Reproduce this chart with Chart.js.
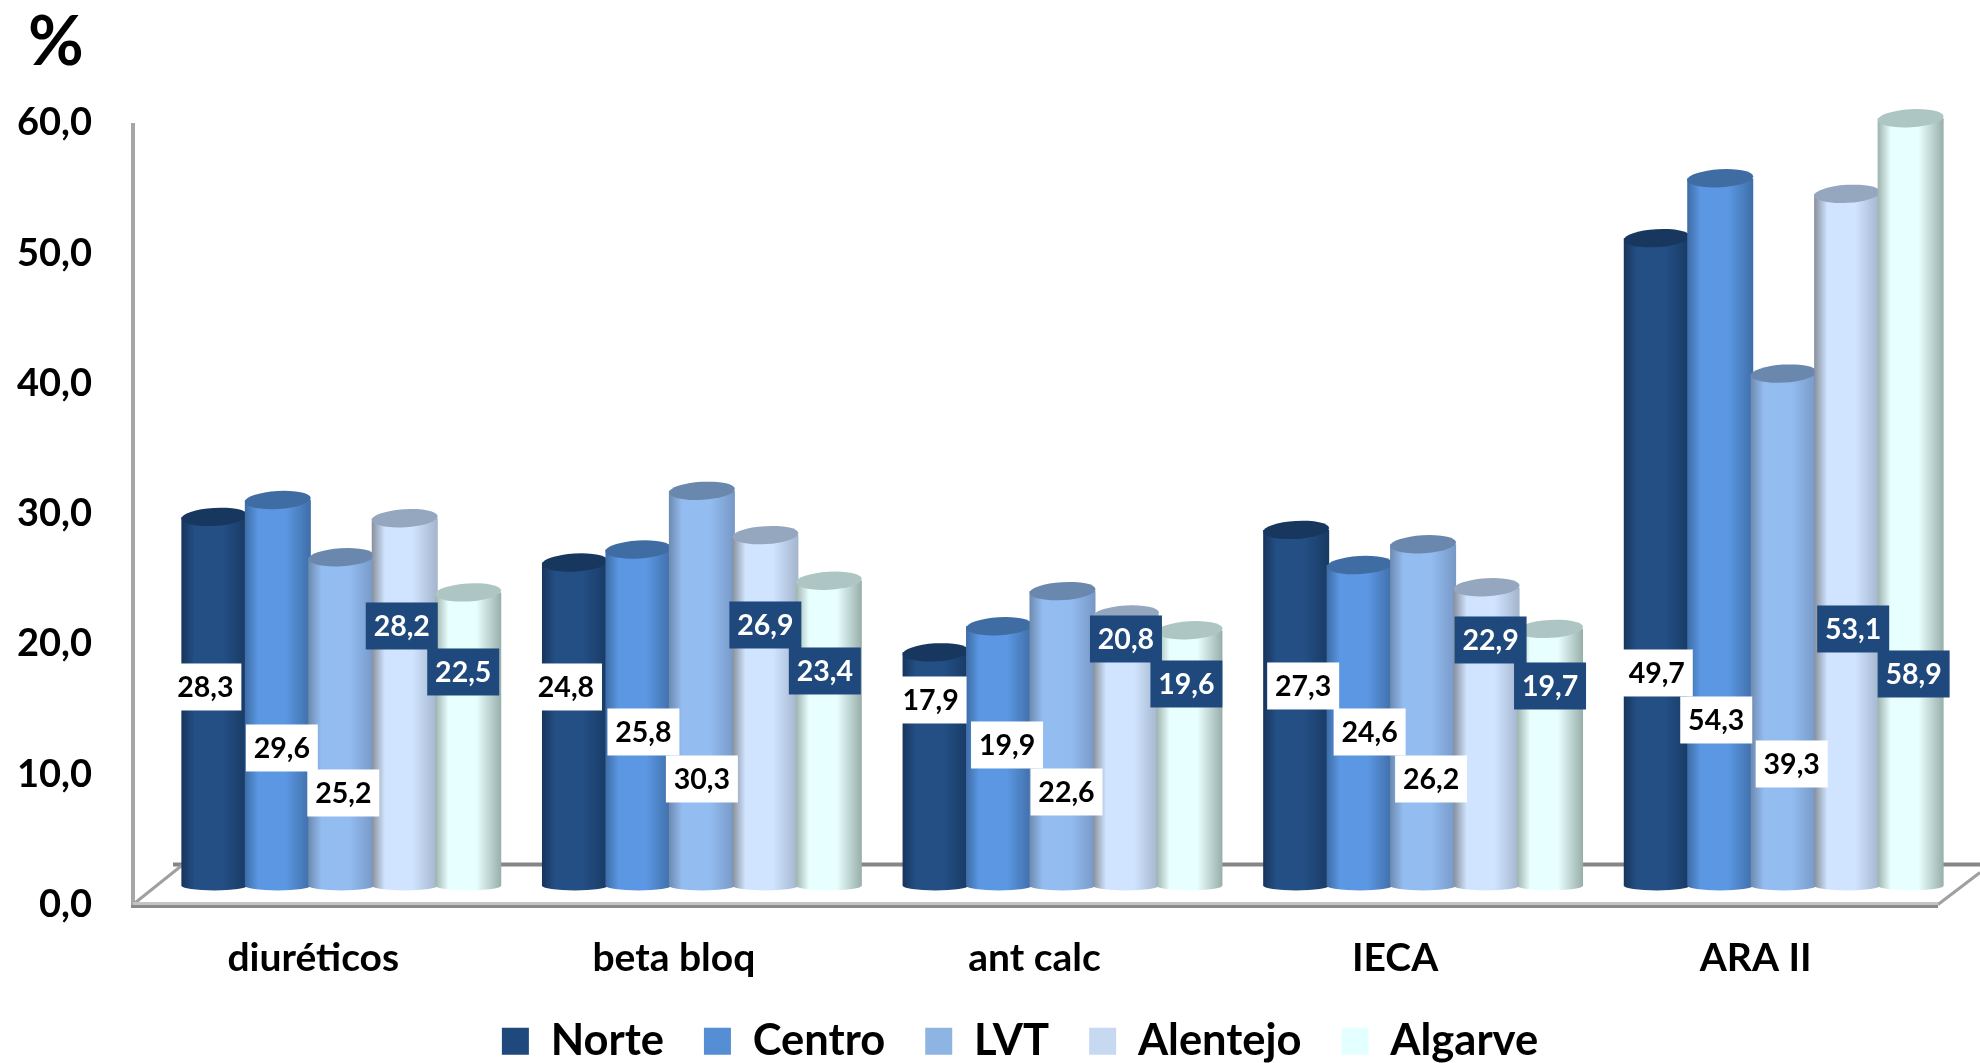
<!DOCTYPE html>
<html>
<head>
<meta charset="utf-8">
<title>Chart</title>
<script src="https://cdn.jsdelivr.net/npm/chart.js@4/dist/chart.umd.min.js"></script>
<style>
  html, body { margin: 0; padding: 0; background: #fff; }
  canvas { display: block; }
</style>
</head>
<body>
<canvas id="grafico" width="1980" height="1063"></canvas>
<script>
// values
const categories = ['diuréticos', 'beta bloq', 'ant calc', 'IECA', 'ARA II'];
const norte = [28.3, 24.8, 17.9, 27.3, 49.7];
const centro = [29.6, 25.8, 19.9, 24.6, 54.3];
const lvt = [25.2, 30.3, 22.6, 26.2, 39.3];
const alentejo = [28.2, 26.9, 20.8, 22.9, 53.1];
const algarve = [22.5, 23.4, 19.6, 19.7, 58.9];

// colours per series: legend, left edge, middle, right edge, top of the cylinder
const seriesNames = ['Norte', 'Centro', 'LVT', 'Alentejo', 'Algarve'];
const seriesValues = [norte, centro, lvt, alentejo, algarve];
const legendColors = ['#1f497d', '#558ed5', '#8eb4e3', '#c6d9f1', '#e4ffff'];
const edgeLeft = ['#17355c', '#3d6ca6', '#6d8ab0', '#868f9c', '#9db3ae'];
const bodyMid = ['#234f85', '#5b97e2', '#93bcf0', '#d0e4ff', '#e8ffff'];
const edgeRight = ['#183a63', '#3f6ea8', '#7698c6', '#a3b4cc', '#98aeaa'];
const capColors = ['#17375f', '#3f6ca3', '#6a88ae', '#95a7bf', '#aec6c3'];

// hand placed value labels, like in the original: px right of the bar centre / px above the base
const labelShift = [
  [-9, -9, -5, 7, 0],
  [4, 5, 8, 10, -4],
  [2, 0, 4, 8, 8],
  [-3, 0, 0, 4, 6],
  [-5, -4, -3, 0, 3]
];
const labelLift = [
  [199, 199, 186, 200, 213],
  [138, 154, 141, 154, 166],
  [93, 107, 94, 107, 122],
  [260, 261, 247, 246, 257],
  [214, 215, 202, 200, 212]
];

const FONT = 'Lato, Carlito, "Open Sans", sans-serif';
const fmt = v => v.toFixed(1).replace('.', ',');

// draws the floor and the wall lines of the 3D box
const frame3d = {
  id: 'frame3d',
  afterLayout(chart) {
    // legend sits right of the page centre in the reference
    chart.legend.left += 38;
    chart.legend.right += 38;
    chart.legend.top += 2;
    chart.legend.bottom += 2;
  },
  beforeDatasetsDraw(chart) {
    const { ctx, chartArea } = chart;
    const y = chart.scales.y;
    const x0 = chartArea.left - 28;
    const x1 = chartArea.right - 26;
    const yTop = y.getPixelForValue(60);
    const yBot = y.getPixelForValue(0);
    ctx.save();
    ctx.lineCap = 'butt';
    // back of the floor
    ctx.strokeStyle = '#868686';
    ctx.lineWidth = 4;
    ctx.beginPath();
    ctx.moveTo(x0 + 40, yBot - 40);
    ctx.lineTo(1980, yBot - 40);
    ctx.stroke();
    // side edges
    ctx.strokeStyle = '#a0a0a0';
    ctx.lineWidth = 3;
    ctx.beginPath();
    ctx.moveTo(x0, yBot);
    ctx.lineTo(x0 + 50, yBot - 40);
    ctx.moveTo(x1, yBot);
    ctx.lineTo(x1 + 42, yBot - 32);
    ctx.stroke();
    // wall
    ctx.strokeStyle = '#a6a6a6';
    ctx.lineWidth = 4;
    ctx.beginPath();
    ctx.moveTo(x0, yTop);
    ctx.lineTo(x0, yBot + 2);
    ctx.stroke();
    // front of the floor
    ctx.strokeStyle = '#c4c4c4';
    ctx.lineWidth = 3;
    ctx.beginPath();
    ctx.moveTo(x0, yBot - 1);
    ctx.lineTo(x1, yBot - 1);
    ctx.stroke();
    ctx.strokeStyle = '#8a8a8a';
    ctx.beginPath();
    ctx.moveTo(x0 - 2, yBot + 2);
    ctx.lineTo(x1, yBot + 2);
    ctx.stroke();
    // percent sign
    ctx.fillStyle = '#000';
    ctx.font = 'bold 68px ' + FONT;
    ctx.textAlign = 'left';
    ctx.textBaseline = 'middle';
    ctx.fillText('%', 28, 43);
    ctx.restore();
  }
};

// paints every bar element as a cylinder, later series on top
const cylinders = {
  id: 'cylinders',
  beforeDatasetDraw() {
    return false;
  },
  afterDatasetsDraw(chart) {
    const ctx = chart.ctx;
    ctx.save();
    seriesNames.forEach((name, s) => {
      chart.getDatasetMeta(s).data.forEach(bar => {
        const left = bar.x - bar.width / 2;
        const right = bar.x + bar.width / 2;
        const g = ctx.createLinearGradient(left, 0, right, 0);
        g.addColorStop(0, edgeLeft[s]);
        g.addColorStop(0.2, bodyMid[s]);
        g.addColorStop(0.62, bodyMid[s]);
        g.addColorStop(1, edgeRight[s]);
        ctx.fillStyle = g;
        ctx.beginPath();
        ctx.moveTo(left, bar.y);
        ctx.lineTo(left, bar.base);
        ctx.ellipse(bar.x, bar.base, bar.width / 2, 5, 0, Math.PI, 0, true);
        ctx.lineTo(right, bar.y);
        ctx.closePath();
        ctx.fill();
        ctx.fillStyle = capColors[s];
        ctx.beginPath();
        ctx.ellipse(bar.x, bar.y, bar.width / 2, 9, -0.06, 0, Math.PI * 2);
        ctx.fill();
      });
    });
    ctx.restore();
  }
};

// value labels in their little boxes
const valueBoxes = {
  id: 'valueBoxes',
  afterDatasetsDraw(chart) {
    const ctx = chart.ctx;
    const zero = chart.scales.yBars.getPixelForValue(0);
    ctx.save();
    ctx.font = 'bold 28.5px ' + FONT;
    ctx.textAlign = 'center';
    ctx.textBaseline = 'middle';
    seriesNames.forEach((name, s) => {
      const dark = s >= 3;
      chart.getDatasetMeta(s).data.forEach((bar, i) => {
        const cx = bar.x + labelShift[s][i];
        const cy = zero - labelLift[s][i];
        ctx.fillStyle = dark ? '#1f497d' : '#ffffff';
        ctx.fillRect(cx - 36, cy - 23, 72, 47);
        ctx.fillStyle = dark ? '#ffffff' : '#000000';
        ctx.fillText(fmt(seriesValues[s][i]), cx, cy + 1);
      });
    });
    ctx.restore();
  }
};

new Chart(document.getElementById('grafico'), {
  type: 'bar',
  data: {
    labels: categories,
    datasets: seriesNames.map((name, s) => ({
      label: name,
      data: seriesValues[s],
      backgroundColor: legendColors[s],
      borderWidth: 0,
      yAxisID: 'yBars',
      clip: false,
      categoryPercentage: 0.88,
      barPercentage: 1.04
    }))
  },
  plugins: [frame3d, cylinders, valueBoxes],
  options: {
    responsive: false,
    animation: false,
    layout: { padding: { left: 0, right: 16, top: 123, bottom: -8 } },
    plugins: {
      title: { display: false },
      tooltip: { enabled: false },
      legend: {
        position: 'bottom',
        labels: {
          color: '#000',
          boxWidth: 27,
          boxHeight: 27,
          padding: 40,
          font: { family: FONT, size: 43.5, weight: 'bold' }
        }
      }
    },
    scales: {
      x: {
        grid: { display: false, drawTicks: false },
        border: { display: false },
        afterFit(scale) { scale.height = 73; },
        ticks: {
          color: '#000',
          padding: 31,
          labelOffset: -28,
          autoSkip: false,
          maxRotation: 0,
          font: { family: FONT, size: 39, weight: 'bold' }
        }
      },
      // visible axis, sits 19px lower than the bars because of the 3D floor
      y: {
        position: 'left',
        min: 0,
        max: 60,
        grid: { display: false, drawTicks: false },
        border: { display: false },
        afterFit(scale) { scale.width = 161; },
        ticks: {
          color: '#000',
          stepSize: 10,
          padding: 69,
          callback: v => fmt(v),
          font: { family: FONT, size: 38, weight: 'bold' }
        }
      },
      yBars: {
        display: false,
        min: -1.46,
        max: 58.54
      }
    }
  }
});
</script>
</body>
</html>
